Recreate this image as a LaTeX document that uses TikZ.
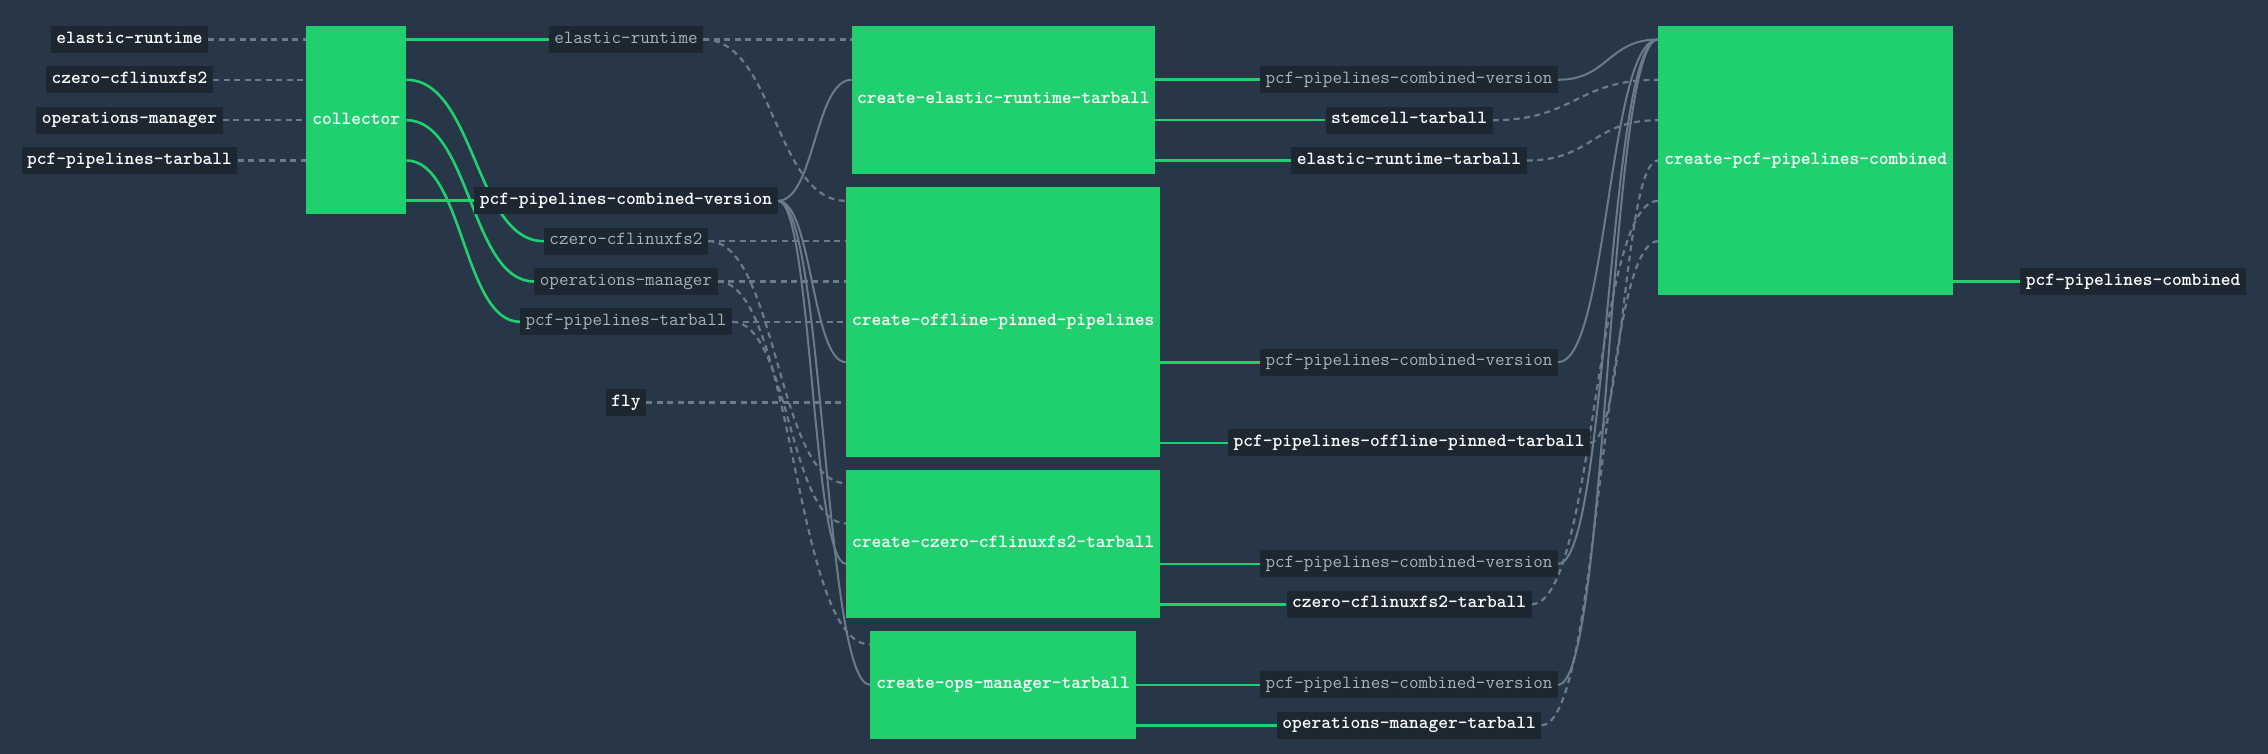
\documentclass[tikz,border=0pt]{standalone}
\usepackage{fontspec}
\usetikzlibrary{calc}
\definecolor{bgc}{HTML}{273747}
\definecolor{lab}{HTML}{1C2732}
\definecolor{grn}{HTML}{20D06F}
\definecolor{edg}{HTML}{6A7B8C}
\definecolor{gtx}{HTML}{ABB3BB}
\pgfdeclarelayer{back}
\pgfdeclarelayer{edges}
\pgfsetlayers{back,edges,main}
\newcommand\labfont{\ttfamily\fontsize{18.57pt}{20pt}\selectfont}
\tikzset{
  res/.style={fill=lab, text=white, font=\labfont\bfseries,
    inner xsep=5.5pt, inner ysep=0pt, minimum height=27pt, text height=11pt, text depth=3.5pt},
  resg/.style={res, text=gtx, font=\labfont},
  job/.style={fill=grn, text=white, font=\labfont\bfseries,
    anchor=north west, inner sep=0pt, text height=11pt, text depth=3.5pt},
  se/.style={draw=edg, line width=2pt},
  de/.style={draw=edg, line width=2.2pt, dash pattern=on 6pt off 4.5pt},
  ge/.style={draw=grn, line width=2.6pt},
  sc/.style={to path={let \p1=(\tikztostart), \p2=(\tikztotarget) in
    .. controls ({0.5*(\x1+\x2)},\y1) and ({0.5*(\x1+\x2)},\y2) .. (\tikztotarget)}}
}
\begin{document}
\begin{tikzpicture}[x=1pt, y=-1pt]
\begin{pgfonlayer}{back}
\fill[bgc] (0,0) rectangle (2268,754);
\end{pgfonlayer}
\useasboundingbox (0,0) rectangle (2268,754);
% rows
\coordinate (r0) at (0,39.5);
\coordinate (r1) at (0,79.8);
\coordinate (r2) at (0,120.2);
\coordinate (r3) at (0,160.5);
\coordinate (r4) at (0,200.8);
\coordinate (r5) at (0,241.2);
\coordinate (r6) at (0,281.5);
\coordinate (r7) at (0,321.8);
\coordinate (r8) at (0,362.2);
\coordinate (r9) at (0,402.5);
\coordinate (r10) at (0,442.8);
\coordinate (r11) at (0,483.2);
\coordinate (r12) at (0,523.5);
\coordinate (r13) at (0,563.8);
\coordinate (r14) at (0,604.2);
\coordinate (r15) at (0,644.5);
\coordinate (r16) at (0,684.8);
\coordinate (r17) at (0,725.2);
% left column
\node[res] (Ler) at (129.5,39.5) {elastic-runtime};
\node[res] (Lcz) at (129.5,79.8) {czero-cflinuxfs2};
\node[res] (Lops) at (129.5,120.2) {operations-manager};
\node[res] (Lpt) at (129.5,160.5) {pcf-pipelines-tarball};
% jobs
\node[job, minimum width=100pt, minimum height=188.3pt] (collector) at (306,26) {collector};
\node[job, minimum width=303.5pt, minimum height=148pt] (erb) at (851.5,26) {create-elastic-runtime-tarball};
\node[job, minimum width=314pt, minimum height=269pt] (offline) at (846,187.3) {create-offline-pinned-pipelines};
\node[job, minimum width=314pt, minimum height=148pt] (czero) at (846,469.7) {create-czero-cflinuxfs2-tarball};
\node[job, minimum width=266pt, minimum height=107.7pt] (ops) at (870,631) {create-ops-manager-tarball};
\node[job, minimum width=295pt, minimum height=269pt] (cpc) at (1658,26) {create-pcf-pipelines-combined};
% middle column
\node[resg] (Mer) at (626,39.5) {elastic-runtime};
\node[res] (Mpcv) at (626,200.8) {pcf-pipelines-combined-version};
\node[resg] (Mcz) at (626,241.2) {czero-cflinuxfs2};
\node[resg] (Mops) at (626,281.5) {operations-manager};
\node[resg] (Mpt) at (626,321.8) {pcf-pipelines-tarball};
\node[res] (fly) at (626,402.5) {fly};
% right column
\node[resg] (Rv1) at (1409,79.8) {pcf-pipelines-combined-version};
\node[res] (Rst) at (1409,120.2) {stemcell-tarball};
\node[res] (Rert) at (1409,160.5) {elastic-runtime-tarball};
\node[resg] (Rv2) at (1409,362.2) {pcf-pipelines-combined-version};
\node[res] (Ropt) at (1409,442.8) {pcf-pipelines-offline-pinned-tarball};
\node[resg] (Rv3) at (1409,563.8) {pcf-pipelines-combined-version};
\node[res] (Rczt) at (1409,604.2) {czero-cflinuxfs2-tarball};
\node[resg] (Rv4) at (1409,684.8) {pcf-pipelines-combined-version};
\node[res] (Romt) at (1409,725.2) {operations-manager-tarball};
\node[res] (Rpc) at (2133,281.5) {pcf-pipelines-combined};
\begin{pgfonlayer}{edges}
% left inputs
\draw[de] (Ler.east) -- (collector.west |- r0);
\draw[de] (Lcz.east) -- (collector.west |- r1);
\draw[de] (Lops.east) -- (collector.west |- r2);
\draw[de] (Lpt.east) -- (collector.west |- r3);
% collector outputs
\draw[ge] (collector.east |- r0) -- (Mer.west);
\draw[ge] (collector.east |- r1) to[sc] (Mcz.west);
\draw[ge] (collector.east |- r2) to[sc] (Mops.west);
\draw[ge] (collector.east |- r3) to[sc] (Mpt.west);
\draw[ge] (collector.east |- r4) -- (Mpcv.west);
% middle inputs
\draw[de] (Mer.east) -- (erb.west |- r0);
\draw[de] (Mer.east) to[sc] (offline.west |- r4);
\draw[se] (Mpcv.east) to[sc] (erb.west |- r1);
\draw[se] (Mpcv.east) to[sc] (offline.west |- r8);
\draw[se] (Mpcv.east) to[sc] (czero.west |- r13);
\draw[se] (Mpcv.east) to[sc] (ops.west |- r16);
\draw[de] (Mcz.east) -- (offline.west |- r5);
\draw[de] (Mcz.east) to[sc] (czero.west |- r11);
\draw[de] (Mops.east) -- (offline.west |- r6);
\draw[de] (Mops.east) to[sc] (ops.west |- r15);
\draw[de] (Mpt.east) -- (offline.west |- r7);
\draw[de] (Mpt.east) to[sc] (czero.west |- r12);
\draw[de] (fly.east) -- (offline.west |- r9);
% job outputs
\draw[ge] (erb.east |- r1) -- (Rv1.west);
\draw[ge] (erb.east |- r2) -- (Rst.west);
\draw[ge] (erb.east |- r3) -- (Rert.west);
\draw[ge] (offline.east |- r8) -- (Rv2.west);
\draw[ge] (offline.east |- r10) -- (Ropt.west);
\draw[ge] (czero.east |- r13) -- (Rv3.west);
\draw[ge] (czero.east |- r14) -- (Rczt.west);
\draw[ge] (ops.east |- r16) -- (Rv4.west);
\draw[ge] (ops.east |- r17) -- (Romt.west);
% into combined job
\draw[se] (Rv1.east) to[sc] (cpc.west |- r0);
\draw[de] (Rst.east) to[sc] (cpc.west |- r1);
\draw[de] (Rert.east) to[sc] (cpc.west |- r2);
\draw[se] (Rv2.east) to[sc] (cpc.west |- r0);
\draw[de] (Ropt.east) to[sc] (cpc.west |- r3);
\draw[se] (Rv3.east) to[sc] (cpc.west |- r0);
\draw[de] (Rczt.east) to[sc] (cpc.west |- r4);
\draw[se] (Rv4.east) to[sc] (cpc.west |- r0);
\draw[de] (Romt.east) to[sc] (cpc.west |- r5);
\draw[ge] (cpc.east |- r6) -- (Rpc.west);
\end{pgfonlayer}
\end{tikzpicture}
\end{document}
